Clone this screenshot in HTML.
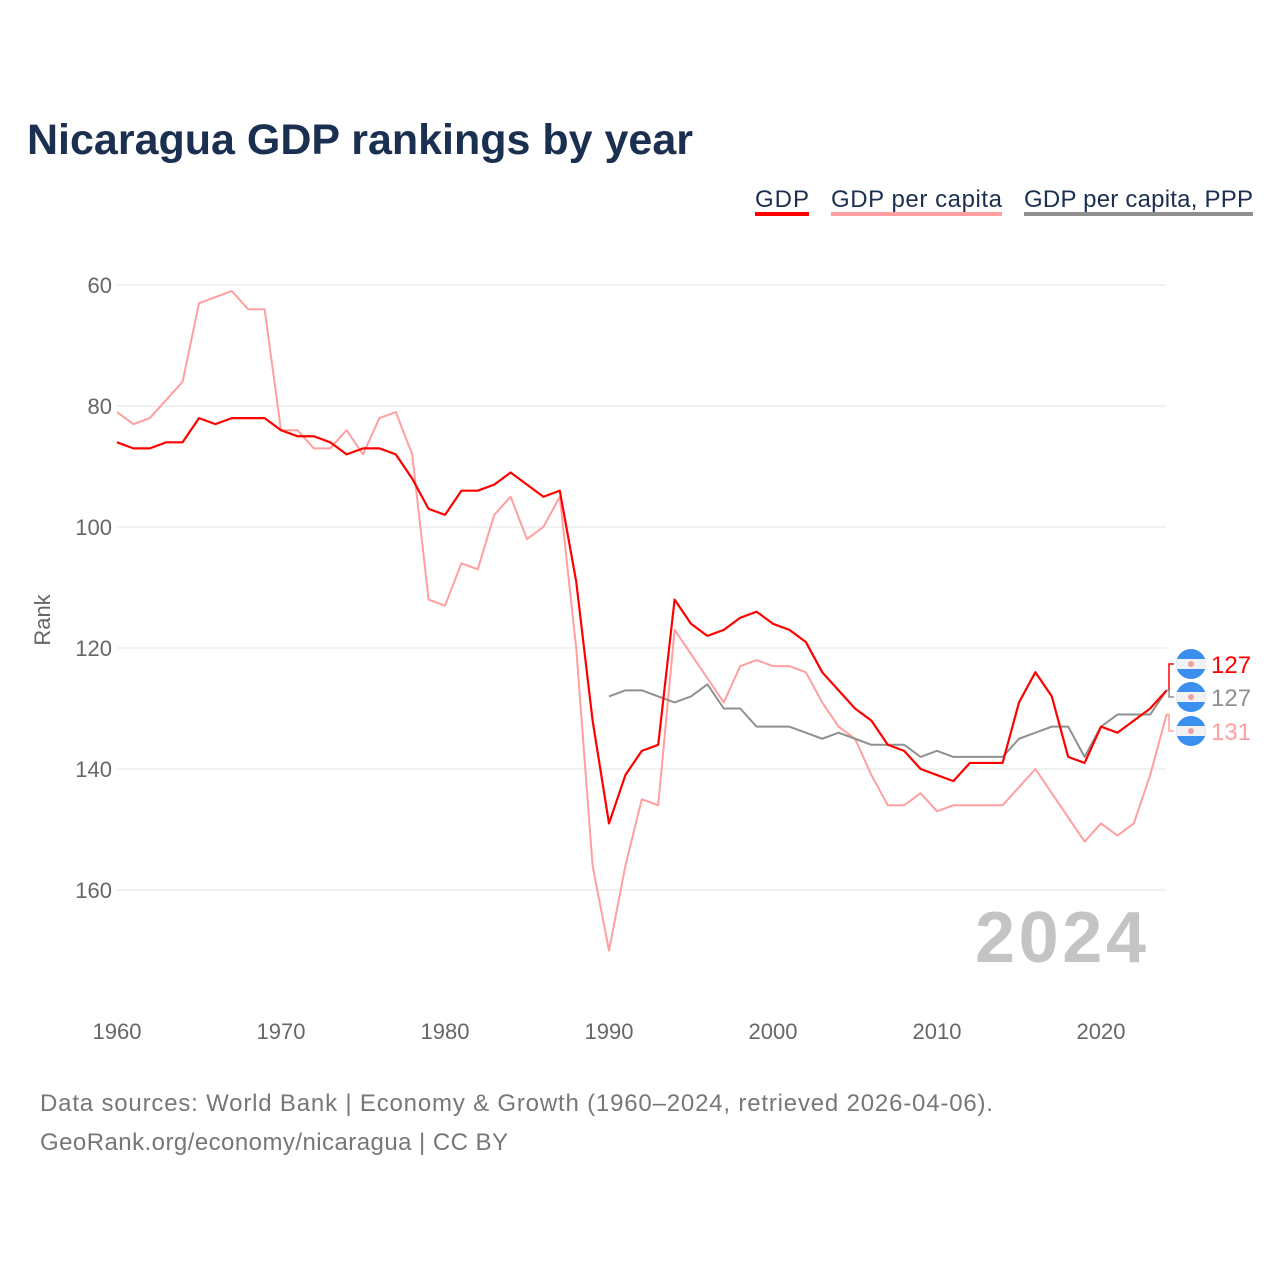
<!DOCTYPE html>
<html><head><meta charset="utf-8"><style>
body{margin:0;background:#fff;font-family:"Liberation Sans",sans-serif}
svg text{font-family:"Liberation Sans",sans-serif}
</style></head><body>
<svg id="c" width="1280" height="1280">
<text x="27" y="154" font-size="43" font-weight="bold" fill="#1b2f50">Nicaragua GDP rankings by year</text>
<g>
<g><text x="755" y="207" font-size="24" fill="#1b2f50" textLength="54">GDP</text><rect x="755" y="212" width="54" height="4" fill="#ff0000"/></g>
<g><text x="831" y="207" font-size="24" fill="#1b2f50" textLength="171">GDP per capita</text><rect x="831" y="212" width="171" height="4" fill="#ff9f9f"/></g>
<g><text x="1024" y="207" font-size="24" fill="#1b2f50" textLength="229">GDP per capita, PPP</text><rect x="1024" y="212" width="229" height="4" fill="#909090"/></g>
</g>
<text transform="translate(50,620) rotate(-90)" text-anchor="middle" font-size="22" fill="#666">Rank</text>
<g id="grid"></g><g id="ticks"></g>
<text x="975" y="962" font-size="72" font-weight="bold" fill="#c4c4c4" textLength="171">2024</text>
<g id="lines"></g><g id="ends"></g>
<text x="40" y="1111" font-size="24" fill="#777" textLength="953">Data sources: World Bank | Economy &amp; Growth (1960–2024, retrieved 2026-04-06).</text>
<text x="40" y="1150" font-size="24" fill="#777" textLength="468">GeoRank.org/economy/nicaragua | CC BY</text>
</svg>
<script>
const gdp=[86,87,87,86,86,82,83,82,82,82,84,85,85,86,88,87,87,88,92,97,98,94,94,93,91,93,95,94,109,132,149,141,137,136,112,116,118,117,115,114,116,117,119,124,127,130,132,136,137,140,141,142,139,139,139,129,124,128,138,139,133,134,132,130,127];
const gdpPc=[81,83,82,79,76,63,62,61,64,64,84,84,87,87,84,88,82,81,88,112,113,106,107,98,95,102,100,95,120,156,170,156,145,146,117,121,125,129,123,122,123,123,124,129,133,135,141,146,146,144,147,146,146,146,146,143,140,144,148,152,149,151,149,141,131];
const ppp=[128,127,127,128,129,128,126,130,130,133,133,133,134,135,134,135,136,136,136,138,137,138,138,138,138,135,134,133,133,138,133,131,131,131,127];
const yTicks=[60,80,100,120,140,160];
const xTicks=[1960,1970,1980,1990,2000,2010,2020];
const X=y=>117+(y-1960)*16.4, Y=r=>285+(r-60)*6.05;
const ns="http://www.w3.org/2000/svg";
function mk(t,a,p){const e=document.createElementNS(ns,t);for(const k in a)e.setAttribute(k,a[k]);document.getElementById(p).appendChild(e);return e;}
yTicks.forEach(v=>{
 const l=mk('line',{x1:117,x2:1166,y1:Y(v),y2:Y(v),stroke:'#e6e6e6','stroke-width':1},'grid');
 
 
 const t=mk('text',{x:112,y:Y(v)+8,'text-anchor':'end','font-size':22,fill:'#666'},'ticks');t.textContent=v;
 
 
});
xTicks.forEach(v=>{
 const t=mk('text',{x:X(v),y:1039,'text-anchor':'middle','font-size':22,fill:'#666'},'ticks');t.textContent=v;
 
 
});
function line(d,start,col,w,name){
 const p=mk('polyline',{points:d.map((r,i)=>X(start+i)+','+Y(r)).join(' '),fill:'none',stroke:col,'stroke-width':w,'stroke-linejoin':'round'},'lines');
 
 
}
line(gdpPc,1960,'#ff9f9f',2,'gdp-per-capita-line');
line(ppp,1990,'#909090',2,'gdp-ppp-line');
line(gdp,1960,'#ff0000',2.2,'gdp-line');
const ends=[[gdp[gdp.length-1],'#ff0000',664],[ppp[ppp.length-1],'#909090',697],[gdpPc[gdpPc.length-1],'#ff9f9f',731]];
ends.forEach(([v,c,ly])=>{
 const yy=Y(v);
 mk('polyline',{points:`1166,${yy} 1169,${yy} 1169,${ly} 1174,${ly}`,fill:'none',stroke:c,'stroke-width':1.5},'ends');
 const g=mk('g',{},'ends');
 
 
 const cx=1191;
 g.innerHTML=`<clipPath id="cp${ly}"><circle cx="${cx}" cy="${ly}" r="15"/></clipPath><g clip-path="url(#cp${ly})"><rect x="${cx-15}" y="${ly-15}" width="30" height="30" fill="#3b8fef"/><rect x="${cx-15}" y="${ly-5}" width="30" height="10" fill="#f2f2f2"/></g><circle cx="${cx}" cy="${ly}" r="3" fill="#f0a0a0"/><text x="1211" y="${ly+9}" font-size="24" fill="${c}">${v}</text>`;
});
</script>
</body></html>
